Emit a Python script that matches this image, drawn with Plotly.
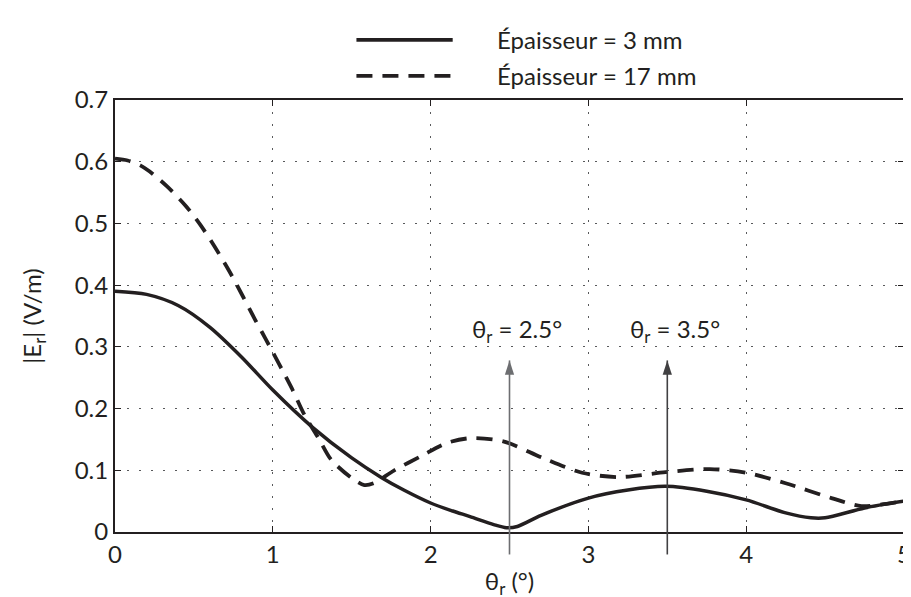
import plotly.graph_objects as go

# ---- data ----
theta_3mm = [0.0, 0.2, 0.4, 0.6, 0.8, 1.0, 1.25, 1.5, 1.69, 1.83, 2.0, 2.14, 2.25, 2.4, 2.48, 2.55, 2.7, 3.0, 3.25, 3.49, 3.75, 4.0, 4.25, 4.41, 4.5, 4.75, 5.0]
e_3mm = [0.39, 0.385, 0.367, 0.332, 0.284, 0.23, 0.17, 0.12, 0.088, 0.068, 0.047, 0.034, 0.025, 0.012, 0.007, 0.009, 0.027, 0.055, 0.068, 0.074, 0.066, 0.052, 0.031, 0.023, 0.023, 0.039, 0.05]

theta_17mm = [0.0, 0.08, 0.16, 0.22, 0.33, 0.45, 0.54, 0.63, 0.73, 0.81, 0.89, 0.95, 1.12, 1.2, 1.29, 1.37, 1.5, 1.58, 1.64, 1.77, 1.94, 2.1, 2.25, 2.46, 2.71, 2.96, 3.19, 3.49, 3.77, 4.0, 4.25, 4.54, 4.73, 4.9, 5.0]
e_17mm = [0.605, 0.602, 0.594, 0.584, 0.56, 0.528, 0.498, 0.463, 0.42, 0.382, 0.343, 0.315, 0.233, 0.19, 0.152, 0.117, 0.0875, 0.076, 0.079, 0.1, 0.123, 0.144, 0.152, 0.147, 0.12, 0.096, 0.089, 0.097, 0.102, 0.096, 0.079, 0.055, 0.042, 0.046, 0.05]

series_names = ["Épaisseur = 3 mm", "Épaisseur = 17 mm"]
x_ticks = [0, 1, 2, 3, 4, 5]
y_ticks = [0, 0.1, 0.2, 0.3, 0.4, 0.5, 0.6, 0.7]
y_ticklabels = ["0", "0.1", "0.2", "0.3", "0.4", "0.5", "0.6", "0.7"]
marker_angles = [2.5, 3.5]
marker_labels = ["θ<sub>r</sub> = 2.5°", "θ<sub>r</sub> = 3.5°"]
arrow_top = 0.278      # value where the arrow heads sit
label_level = 0.327    # value where the labels sit

INK = "#231f20"
FONT = "Lato"
FS = 24
Y_MAX = 0.7

fig = go.Figure()
fig.add_trace(go.Scatter(x=theta_3mm, y=e_3mm, mode="lines", name=series_names[0],
                         line=dict(color=INK, width=3.5, shape="spline", smoothing=0.8),
                         showlegend=False, hoverinfo="skip"))
fig.add_trace(go.Scatter(x=theta_17mm, y=e_17mm, mode="lines", name=series_names[1],
                         line=dict(color=INK, width=3.8, dash="16px,10px", shape="spline", smoothing=0.8),
                         showlegend=False, hoverinfo="skip"))

# vertical marker lines (extend slightly below the axis, like the reference)
arrow_colors = ["#6d6e71", "#414042"]
for a, col in zip(marker_angles, arrow_colors):
    fig.add_shape(type="line", xref="x", yref="paper", x0=a, x1=a,
                  y0=-0.052, y1=arrow_top / Y_MAX, line=dict(color=col, width=1.6), layer="above")

# arrow heads
fig.add_trace(go.Scatter(x=marker_angles, y=[arrow_top] * len(marker_angles), mode="markers",
                         marker=dict(symbol="arrow", size=15, color=arrow_colors, line=dict(width=0)),
                         cliponaxis=False, showlegend=False, hoverinfo="skip"))

for a, lab in zip(marker_angles, marker_labels):
    fig.add_annotation(x=a + 0.05, y=label_level, xref="x", yref="y", text=lab, showarrow=False,
                       font=dict(family=FONT, size=FS, color=INK), xanchor="center", yanchor="middle")

# legend drawn above the plot (paper coordinates)
legend_rows = [1.139, 1.056]
legend_dash = ["solid", "16px,10px"]
for nm, yy, ds in zip(series_names, legend_rows, legend_dash):
    fig.add_shape(type="line", xref="paper", yref="paper", x0=0.306, x1=0.428, y0=yy, y1=yy,
                  line=dict(color=INK, width=3.8, dash=ds))
    fig.add_annotation(xref="paper", yref="paper", x=0.482, y=yy, text=nm, showarrow=False,
                       xanchor="left", yanchor="middle", font=dict(family=FONT, size=FS, color=INK))

axis_common = dict(showline=True, linecolor=INK, linewidth=2, mirror="ticks",
                   ticks="inside", ticklen=6, tickwidth=1.2, tickcolor=INK,
                   showgrid=True, gridcolor="#58595b", gridwidth=1.4, griddash="1.5px,10.5px",
                   zeroline=False, tickfont=dict(family=FONT, size=FS, color=INK),
                   ticklabeloverflow="allow")

fig.update_xaxes(range=[0, 5], tickvals=x_ticks, ticktext=[str(v) for v in x_ticks],
                 title=dict(text="θ<sub>r</sub> (°)", font=dict(family=FONT, size=FS, color=INK), standoff=6),
                 **axis_common)
fig.update_yaxes(range=[0, Y_MAX], tickvals=y_ticks, ticktext=y_ticklabels,
                 title=dict(text="|E<sub>r</sub>| (V/m)", font=dict(family=FONT, size=FS, color=INK), standoff=26),
                 **axis_common)

fig.update_layout(width=911, height=597, margin=dict(l=107, r=8, t=92, b=73),
                  paper_bgcolor="white", plot_bgcolor="white", showlegend=False,
                  font=dict(family=FONT, size=FS, color=INK))

fig.write_html("out.html")
